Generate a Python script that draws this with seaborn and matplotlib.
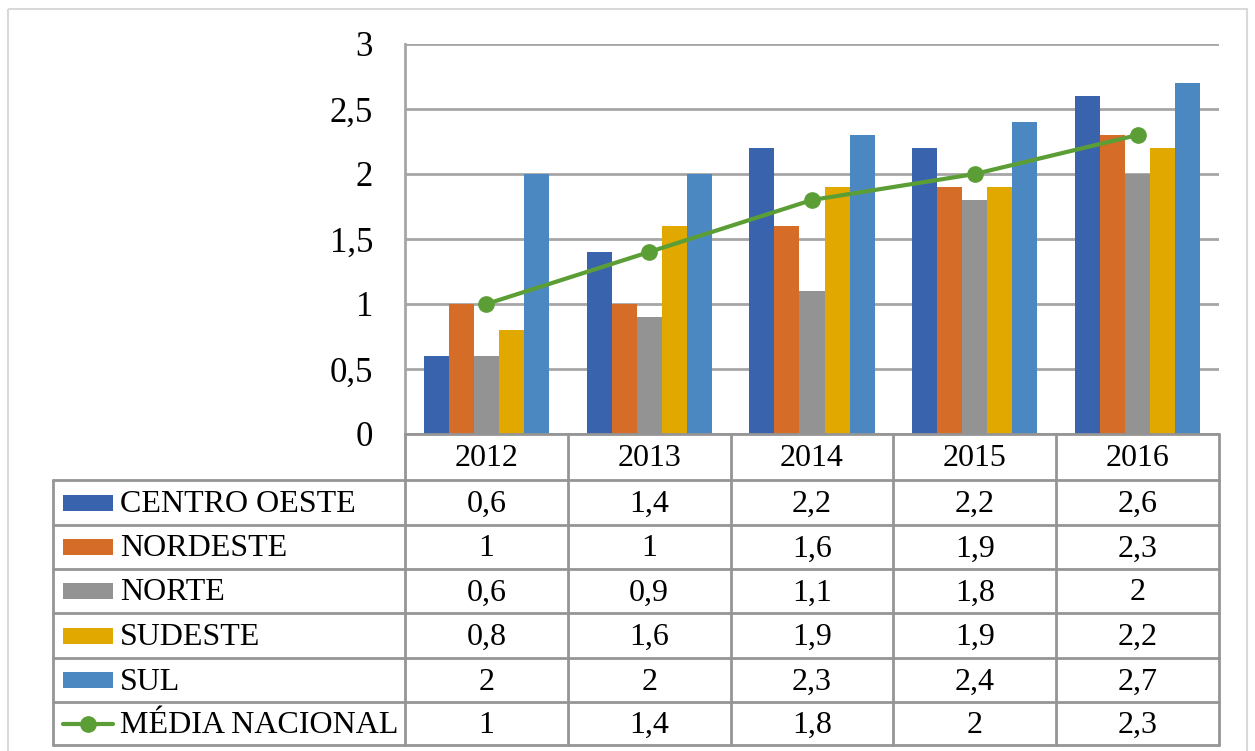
import numpy as np
import pandas as pd
import seaborn as sns
import matplotlib.pyplot as plt
from matplotlib.patches import Rectangle

# data
anos = ['2012', '2013', '2014', '2015', '2016']
regioes = ['CENTRO OESTE', 'NORDESTE', 'NORTE', 'SUDESTE', 'SUL']
centro_oeste = [0.6, 1.4, 2.2, 2.2, 2.6]
nordeste = [1.0, 1.0, 1.6, 1.9, 2.3]
norte = [0.6, 0.9, 1.1, 1.8, 2.0]
sudeste = [0.8, 1.6, 1.9, 1.9, 2.2]
sul = [2.0, 2.0, 2.3, 2.4, 2.7]
media_nacional = [1.0, 1.4, 1.8, 2.0, 2.3]
media_label = 'MÉDIA NACIONAL'

cores = ['#3A63AD', '#D56C28', '#939393', '#E1A900', '#4B88C1']
verde = '#5B9E36'
cinza = '#A6A6A6'

series = [centro_oeste, nordeste, norte, sudeste, sul]
df = pd.DataFrame({
    'ano': np.repeat([anos], len(regioes), axis=0).ravel(),
    'regiao': np.repeat(regioes, len(anos)),
    'valor': np.concatenate(series),
})

def fmt(v):
    return ('%g' % v).replace('.', ',')

sns.set_theme(style='white')
plt.rcParams['font.family'] = ['Liberation Serif', 'DejaVu Serif']

W, H = 1255, 751
fig = plt.figure(figsize=(W / 100, H / 100), dpi=100)

# layout in pixels
x0, x1 = 405, 1219
y_top, y_zero = 44, 434
ax = fig.add_axes([x0 / W, 1 - y_zero / H, (x1 - x0) / W, (y_zero - y_top) / H])

sns.barplot(data=df, x='ano', y='valor', hue='regiao', palette=cores,
            width=0.77, saturation=1, ax=ax, legend=False, edgecolor='none')
ax.plot(np.arange(len(anos)), media_nacional, color=verde, lw=3,
        marker='o', ms=11, zorder=5)

ax.set_ylim(0, 3)
ax.set_xlim(-0.5, len(anos) - 0.5)
yt = np.arange(0, 3.01, 0.5)
ax.set_yticks(yt)
ax.set_yticklabels([fmt(v) for v in yt], fontsize=25, color='black')
ax.tick_params(axis='y', length=0, pad=23)
ax.set_xticks([])
ax.set_xlabel('')
ax.set_ylabel('')
ax.yaxis.grid(True, color=cinza, lw=2)
ax.set_axisbelow(True)
for s in ['top', 'right', 'bottom']:
    ax.spines[s].set_visible(False)
ax.spines['left'].set_color(cinza)
ax.spines['left'].set_linewidth(2)

# data table drawn on an overlay in pixel coordinates
tab = fig.add_axes([0, 0, 1, 1])
tab.set_xlim(0, W)
tab.set_ylim(H, 0)
tab.axis('off')
tab.patch.set_alpha(0)

# outer frame
tab.add_patch(Rectangle((8, 9), 1239, 760, fill=False, ec='#D9D9D9', lw=1.5))

t_left = 53
cw = (x1 - x0) / len(anos)
row_y = [y_zero, 480, 525, 569, 613, 658, 702, 745]
lc = '#959595'
fs = 23
# horizontal lines
tab.plot([x0, x1], [row_y[0], row_y[0]], color=lc, lw=2)
for yy in row_y[1:]:
    tab.plot([t_left, x1], [yy, yy], color=lc, lw=2)
# vertical lines
tab.plot([t_left, t_left], [row_y[1], row_y[-1]], color=lc, lw=2)
for i in range(len(anos) + 1):
    xx = x0 + i * cw
    tab.plot([xx, xx], [row_y[0], row_y[-1]], color=lc, lw=2)

# header years
for i, a in enumerate(anos):
    tab.text(x0 + (i + 0.5) * cw, (row_y[0] + row_y[1]) / 2 + 2, a,
             ha='center', va='center', fontsize=fs, color='black')

labels = regioes + [media_label]
valores = series + [media_nacional]
for r, (lab, vals) in enumerate(zip(labels, valores)):
    yc = (row_y[r + 1] + row_y[r + 2]) / 2
    if r < len(regioes):
        tab.add_patch(Rectangle((63, yc - 8), 50, 16, color=cores[r], lw=0))
    else:
        tab.plot([63, 113], [yc, yc], color=verde, lw=3)
        tab.plot([88], [yc], marker='o', color=verde, ms=11)
    tab.text(120, yc + 2, lab, ha='left', va='center', fontsize=fs,
             color='black')
    for i, v in enumerate(vals):
        tab.text(x0 + (i + 0.5) * cw, yc + 2, fmt(v), ha='center',
                 va='center', fontsize=fs, color='black')

fig.savefig('out.png', dpi=100, facecolor='white')
